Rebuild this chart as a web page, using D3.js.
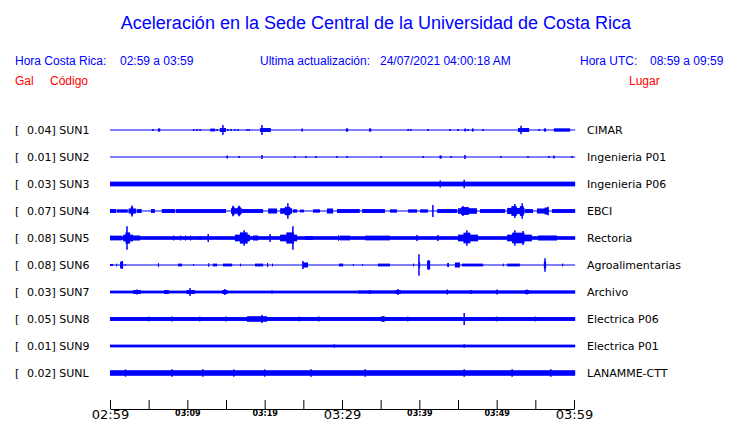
<!DOCTYPE html>
<html><head><meta charset="utf-8">
<script src="https://cdn.jsdelivr.net/npm/d3@7"></script>
<style>
body{margin:0;background:#fff;}
svg{display:block;}
</style></head><body>
<svg id="c" width="740" height="423"></svg>
<script>
// ---------- data ----------
const title = "Aceleración en la Sede Central de la Universidad de Costa Rica";
const crLabel = "Hora Costa Rica:", crRange = "02:59 a 03:59";
const updLabel = "Ultima actualización:", updValue = "24/07/2021 04:00:18 AM";
const utcLabel = "Hora UTC:", utcRange = "08:59 a 09:59";
const codes  = ["SUN1","SUN2","SUN3","SUN4","SUN5","SUN6","SUN7","SUN8","SUN9","SUNL"];
const peaks  = ["0.04","0.01","0.03","0.07","0.08","0.08","0.03","0.05","0.01","0.02"];
const places = ["CIMAR","Ingenieria P01","Ingenieria P06","EBCI","Rectoria","Agroalimentarias","Archivo","Electrica P06","Electrica P01","LANAMME-CTT"];
const tickMinutes  = [0,5,10,15,20,25,30,35,40,45,50,55,60];
const majorLabels  = [0,30,60];
const minorLabels  = [10,20,40,50];

// bursts: [startMinute, endMinute, relative amplitude]; spikes: [minute, relative amplitude]
const sun1Blocks = [[6.2,6.5,10],[12.95,13.6,10],[14.2,15.0,14],[19.4,20.8,14],[30.5,30.8,10],[33.5,33.8,10],[45.8,46.05,10],[46.8,47.0,10],[52.75,54.2,14],[56.1,56.4,10],[57.4,59.5,12]];
const sun1Spikes = [[5.55,7],[6.35,10],[10.85,7],[11.25,7],[11.65,7],[13.85,7],[14.6,35],[15.25,7],[15.65,7],[16.15,7],[16.55,7],[17.7,7],[18.0,7],[19.65,35],[24.85,10],[30.65,10],[33.6,10],[38.55,7],[38.9,7],[41.1,7],[43.95,7],[45.0,7],[46.3,7],[46.9,10],[48.25,7],[53.15,30],[55.5,7],[56.25,10]];
const sun2Blocks = [];
const sun2Spikes = [[15.15,10],[16.7,7],[19.65,14],[23.9,7],[25.35,7],[26.65,7],[29.35,7],[30.65,7],[35.05,7],[40.5,7],[42.7,10],[42.8,10],[44.1,7],[45.9,14],[50.55,7],[54.05,7],[56.75,7],[57.4,10],[59.75,7]];
const sun3Blocks = [[0,60.15,17]];
const sun3Spikes = [[42.7,25],[45.8,30]];
const sun4Blocks = [[0,0.8,14],[0.9,2.3,12],[2.4,3.4,18],[2.7,3.0,28],[3.5,4.1,14],[5.3,5.8,14],[6.7,8.4,14],[8.5,15.0,14],[15.65,17.05,20],[15.8,16.1,30],[16.5,16.9,30],[17.05,19.8,14],[20.45,21.6,18],[22.0,23.55,20],[22.6,23.3,30],[23.65,24.2,12],[24.55,25.1,10],[26.25,27.15,12],[28.05,28.85,18],[29.35,32.3,14],[32.6,35.55,14],[36.2,37.1,12],[38.55,39.7,12],[40.1,41.1,12],[42.3,44.9,14],[45.0,47.45,20],[45.4,46.4,28],[47.85,51.1,14],[51.35,53.6,22],[51.9,52.6,35],[53.0,53.5,35],[53.65,54.7,14],[55.2,56.65,18],[56.2,56.65,25],[57.15,60.15,14]];
const sun4Spikes = [[2.85,40],[15.9,38],[16.7,38],[23.0,56],[41.75,42],[45.65,35],[52.35,50],[53.3,55],[56.65,30]];
const sun5Blocks = [[0,60.15,13],[0,1.55,17],[1.7,3.0,24],[2.0,2.6,40],[3.0,3.9,18],[8.15,8.3,18],[9.05,9.2,18],[9.7,9.85,18],[10.35,10.5,18],[16.15,18.1,24],[16.8,17.8,40],[18.5,19.15,18],[22.0,24.2,24],[22.8,23.8,40],[25.2,26.25,14],[29.5,29.6,21],[29.75,31.05,17],[33.0,36.2,17],[45.0,47.6,24],[45.7,46.6,38],[51.35,54.55,24],[52.0,53.6,38],[55.35,57.8,18]];
const sun5Spikes = [[2.2,84],[11.65,14],[12.7,28],[17.35,56],[20.7,28],[23.65,84],[39.7,21],[42.4,21],[46.15,56],[52.35,56],[53.4,50]];
const sun6Blocks = [[0,0.4,7],[0.8,0.9,10],[1.3,1.7,24],[1.9,2.0,7],[6.2,6.3,14],[8.8,9.3,10],[10.75,10.8,7],[12.7,12.8,14],[13.3,13.85,10],[14.6,15.8,10],[16.8,16.9,10],[18.75,19.8,10],[20.3,20.45,14],[20.95,21.0,10],[24.95,25.6,18],[29.6,30.15,10],[31.4,31.5,7],[32.6,32.7,7],[34.65,36.2,10],[39.2,39.3,10],[39.95,40.1,21],[41.0,41.4,30],[43.7,43.8,14],[44.6,45.25,18],[45.5,48.25,10],[50.8,50.9,10],[51.35,53.0,10],[56.1,56.4,24],[58.45,58.6,10]];
const sun6Spikes = [[1.55,28],[24.95,28],[39.95,77],[41.2,35],[56.25,49],[43.7,14]];
const sun7Blocks = [[0,32,10],[32,60.15,12],[3.0,4.0,14],[7.0,7.6,14],[9.9,11.0,14],[14.5,15.2,14],[36.9,37.6,14],[53.6,54.2,14]];
const sun7Spikes = [[3.5,18],[7.4,14],[10.35,28],[14.85,21],[20.95,10],[33.6,14],[37.25,21],[43.6,18],[46.7,14],[50.05,18],[53.9,18]];
const sun8Blocks = [[0,60.15,14],[17.7,20.3,20],[35.0,35.6,18]];
const sun8Spikes = [[5,17],[8,17],[11.6,17],[15,17],[19.65,28],[24.5,17],[27,17],[35.3,21],[38.5,17],[45.8,42],[50,17],[55,17]];
const sun9Blocks = [[0,60.15,10]];
const sun9Spikes = [[29,12],[45.8,12]];
const sunLBlocks = [[0,60.15,20]];
const sunLSpikes = [[2,26],[8,26],[12,26],[16,26],[20,26],[26,26],[33,26],[45.8,26],[52,26],[57,26]];

const traceBlocks = [sun1Blocks,sun2Blocks,sun3Blocks,sun4Blocks,sun5Blocks,sun6Blocks,sun7Blocks,sun8Blocks,sun9Blocks,sunLBlocks];
const traceSpikes = [sun1Spikes,sun2Spikes,sun3Spikes,sun4Spikes,sun5Spikes,sun6Spikes,sun7Spikes,sun8Spikes,sun9Spikes,sunLSpikes];

// ---------- drawing ----------
const svg = d3.select("#c");
const BLUE = "#0000ff", RED = "#ff0000";
const t0 = new Date(2021,6,24,2,59,0);
const toDate = m => new Date(t0.getTime() + m*60000);
const x = d3.scaleTime().domain([toDate(0), toDate(60)]).range([110, 574]);
const y = d3.scalePoint().domain(codes).range([130, 373]);
const amp = d3.scaleLinear().domain([0,100]).range([0,14]);

// header
svg.append("text").attr("x",376).attr("y",29).attr("text-anchor","middle")
  .attr("font-family","Liberation Sans, Arial, sans-serif").attr("font-size",18)
  .attr("fill",BLUE).text(title);
const hdr = [[15,crLabel],[120,crRange],[260,updLabel],[380,updValue],[580,utcLabel],[650,utcRange]];
svg.selectAll("text.hdr").data(hdr).join("text").attr("class","hdr")
  .attr("x",d=>d[0]).attr("y",65).attr("font-family","Liberation Sans, Arial, sans-serif")
  .attr("font-size",12).attr("fill",BLUE).text(d=>d[1]);
const red = [[15,"Gal"],[50,"Código"],[629,"Lugar"]];
svg.selectAll("text.red").data(red).join("text").attr("class","red")
  .attr("x",d=>d[0]).attr("y",85).attr("font-family","Liberation Sans, Arial, sans-serif")
  .attr("font-size",12).attr("fill",RED).text(d=>d[1]);

// labels
const lf = "DejaVu Sans, sans-serif";
svg.selectAll("text.br").data(codes).join("text").attr("class","br")
  .attr("x",15).attr("y",d=>y(d)+4).attr("font-family",lf).attr("font-size",11).text("[");
svg.selectAll("text.code").data(codes).join("text").attr("class","code")
  .attr("x",27).attr("y",d=>y(d)+4).attr("font-family",lf).attr("font-size",11)
  .text((d,i)=>peaks[i]+"] "+d);
svg.selectAll("text.place").data(places).join("text").attr("class","place")
  .attr("x",587).attr("y",(d,i)=>y(codes[i])+4).attr("font-family",lf).attr("font-size",11)
  .text(d=>d);

// traces
const tr = svg.selectAll("g.tr").data(codes).join("g").attr("class","tr");
tr.append("line").attr("x1",x(toDate(0))).attr("x2",x(toDate(60.15)))
  .attr("y1",d=>y(d)).attr("y2",d=>y(d)).attr("stroke",BLUE).attr("stroke-width",1);
tr.each(function(code,i){
  const g = d3.select(this), cy = y(code);
  g.selectAll("rect").data(traceBlocks[i]).join("rect")
    .attr("x",d=>x(toDate(d[0]))).attr("width",d=>Math.max(1,x(toDate(d[1]))-x(toDate(d[0]))))
    .attr("y",d=>cy-amp(d[2])).attr("height",d=>2*amp(d[2])).attr("fill",BLUE);
  g.selectAll("line.sp").data(traceSpikes[i]).join("line").attr("class","sp")
    .attr("x1",d=>x(toDate(d[0]))).attr("x2",d=>x(toDate(d[0])))
    .attr("y1",d=>cy-amp(d[1])).attr("y2",d=>cy+amp(d[1]))
    .attr("stroke",BLUE).attr("stroke-width",1.5);
});

// axis
const axis = d3.axisBottom(x).tickValues(tickMinutes.map(toDate))
  .tickSizeInner(-9).tickSizeOuter(0).tickPadding(4)
  .tickFormat(d=>{const m=Math.round((d-t0)/60000);
     return (majorLabels.includes(m)||minorLabels.includes(m))?d3.timeFormat("%H:%M")(d):"";});
const ax = svg.append("g").attr("transform","translate(0,409)").call(axis);
ax.select(".domain").attr("stroke","#000");
ax.selectAll(".tick line").attr("stroke","#000");
ax.selectAll(".tick text").each(function(d){
  const m=Math.round((d-t0)/60000), t=d3.select(this);
  t.attr("fill","#000").attr("font-family",lf).attr("dy",null);
  if(majorLabels.includes(m)) t.attr("font-size",13).attr("y",10);
  else t.attr("font-size",8).attr("font-weight","bold").attr("y",7);
});
</script></body></html>
